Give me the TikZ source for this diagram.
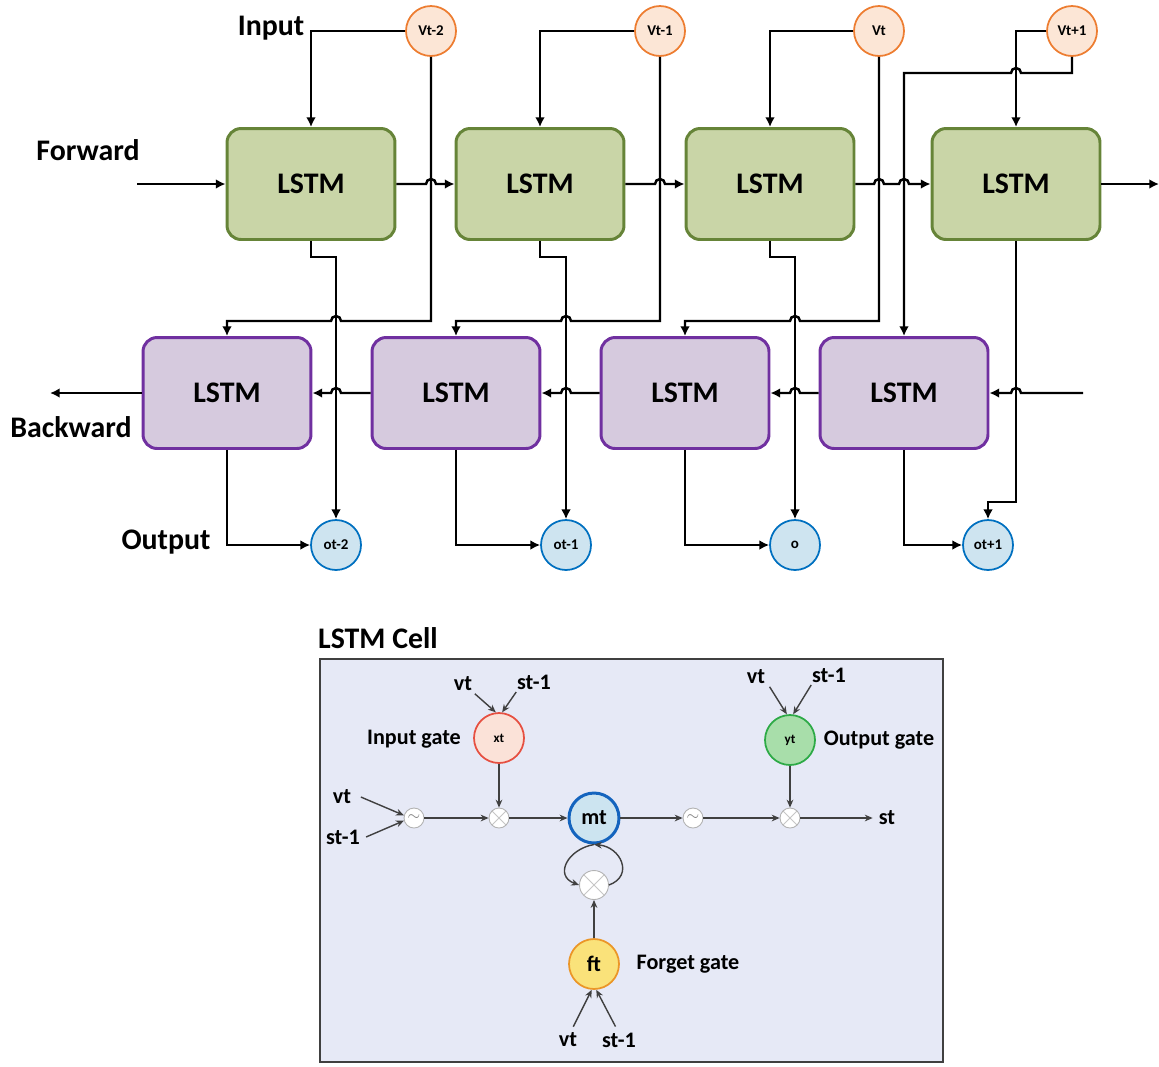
\documentclass[tikz,border=0pt]{standalone}
\usepackage{fontspec}
\setmainfont{Carlito}
\usepackage{tikz}
\usetikzlibrary{arrows.meta, positioning}

\definecolor{fwfill}{RGB}{201,213,167}
\definecolor{fwline}{RGB}{102,132,56}
\definecolor{bwfill}{RGB}{214,202,222}
\definecolor{bwline}{RGB}{112,48,160}
\definecolor{vfill}{RGB}{252,230,214}
\definecolor{vline}{RGB}{237,125,49}
\definecolor{ofill}{RGB}{206,228,240}
\definecolor{oline}{RGB}{0,112,192}
\definecolor{cellbg}{RGB}{230,233,246}
\definecolor{cellline}{RGB}{64,64,64}
\definecolor{xfill}{RGB}{251,226,216}
\definecolor{xline}{RGB}{230,80,65}
\definecolor{yfill}{RGB}{168,222,170}
\definecolor{yline}{RGB}{45,170,70}
\definecolor{mfill}{RGB}{204,228,240}
\definecolor{mline}{RGB}{20,100,190}
\definecolor{ffill}{RGB}{250,226,122}
\definecolor{fline}{RGB}{235,150,40}

\begin{document}
\begin{tikzpicture}[x=0.02cm, y=-0.02cm,
  lstmf/.style={draw=fwline, fill=fwfill, line width=1.7pt, rounded corners=8pt, minimum width=3.36cm, minimum height=2.22cm, font=\fontsize{17}{20}\selectfont\bfseries},
  lstmb/.style={lstmf, draw=bwline, fill=bwfill},
  vin/.style={circle, draw=vline, fill=vfill, line width=1pt, minimum size=1cm, inner sep=0pt, font=\fontsize{8.5}{10}\selectfont\bfseries},
  vout/.style={vin, draw=oline, fill=ofill},
  lbl/.style={font=\fontsize{17}{20}\selectfont\bfseries},
  arr/.style={line width=1.4pt, -{Latex[length=5.5pt,width=5.5pt]}},
  gate/.style={circle, line width=1pt, minimum size=1cm, inner sep=0pt, font=\fontsize{12.6}{15}\selectfont\bfseries},
  tilde/.style={circle, draw=gray!60, fill=white, line width=0.5pt, minimum size=0.4cm, inner sep=0pt, text=gray, font=\small},
  mult/.style={circle, draw=gray!60, fill=white, line width=0.5pt, minimum size=0.4cm, inner sep=0pt,
    path picture={\draw[gray!45, line width=0.5pt] (path picture bounding box.north west) -- (path picture bounding box.south east)
      (path picture bounding box.south west) -- (path picture bounding box.north east);}},
  celltxt/.style={font=\fontsize{12.6}{15}\selectfont\bfseries},
  cellarr/.style={draw=cellline, line width=0.8pt, -{Stealth[length=4.5pt,width=3.8pt]}}]
  \useasboundingbox (0,0) rectangle (1159,1066);

  % bidirectional LSTM
  \node (fw1) [lstmf] at (311,184) {LSTM};
  \node (fw2) [lstmf] at (540,184) {LSTM};
  \node (fw3) [lstmf] at (770,184) {LSTM};
  \node (fw4) [lstmf] at (1016,184) {LSTM};
  \node (bw1) [lstmb] at (227,393) {LSTM};
  \node (bw2) [lstmb] at (456,393) {LSTM};
  \node (bw3) [lstmb] at (685,393) {LSTM};
  \node (bw4) [lstmb] at (904,393) {LSTM};

  \node (in1) [vin] at (431,31) {Vt-2};
  \node (in2) [vin] at (660,31) {Vt-1};
  \node (in3) [vin] at (879,31) {Vt};
  \node (in4) [vin] at (1072,31) {Vt+1};
  \node (out1) [vout] at (336,545) {ot-2};
  \node (out2) [vout] at (566,545) {ot-1};
  \node (out3) [vout] at (795,545) {o};
  \node (out4) [vout] at (988,545) {ot+1};

  \node (inlbl) [lbl] at (271,28) {Input};
  \node (fwlbl) [lbl] at (88,150) {Forward};
  \node (bwlbl) [lbl] at (71,427) {Backward};
  \node (outlbl) [lbl] at (166,542) {Output};

  \coordinate (fstart) at (137,184);
  \coordinate (fend) at (1159,184);
  \coordinate (bstart) at (1083,393);
  \coordinate (bend) at (50,393);

  % forward chain
  \draw [arr] (fstart) -- (fw1.west);
  \draw [arr] (fw1.east) -- (426,184) arc[start angle=180, end angle=0, radius=0.1cm] -- (fw2.west);
  \draw [arr] (fw2.east) -- (655,184) arc[start angle=180, end angle=0, radius=0.1cm] -- (fw3.west);
  \draw [arr] (fw3.east) -- (874,184) arc[start angle=180, end angle=0, radius=0.1cm] -- (899,184)
    arc[start angle=180, end angle=0, radius=0.1cm] -- (fw4.west);
  \draw [arr] (fw4.east) -- (fend);

  % backward chain
  \draw [arr] (bstart) -- (1021,393) arc[start angle=0, end angle=180, radius=0.1cm] -- (bw4.east);
  \draw [arr] (bw4.west) -- (800,393) arc[start angle=0, end angle=180, radius=0.1cm] -- (bw3.east);
  \draw [arr] (bw3.west) -- (571,393) arc[start angle=0, end angle=180, radius=0.1cm] -- (bw2.east);
  \draw [arr] (bw2.west) -- (341,393) arc[start angle=0, end angle=180, radius=0.1cm] -- (bw1.east);
  \draw [arr] (bw1.west) -- (bend);

  % inputs
  \draw [arr] (in1.west) -| (fw1.north);
  \draw [arr] (in2.west) -| (fw2.north);
  \draw [arr] (in3.west) -| (fw3.north);
  \draw [arr] (in4.west) -| (fw4.north);
  \draw [arr] (in1.south) |- (341,321) arc[start angle=0, end angle=180, radius=0.1cm] -| (bw1.north);
  \draw [arr] (in2.south) |- (571,321) arc[start angle=0, end angle=180, radius=0.1cm] -| (bw2.north);
  \draw [arr] (in3.south) |- (800,321) arc[start angle=0, end angle=180, radius=0.1cm] -| (bw3.north);
  \draw [arr] (in4.south) |- (1021,73) arc[start angle=0, end angle=180, radius=0.1cm] -| (bw4.north);

  % outputs
  \draw [arr] (fw1.south) |- (336,257) -- (out1.north);
  \draw [arr] (fw2.south) |- (566,257) -- (out2.north);
  \draw [arr] (fw3.south) |- (795,257) -- (out3.north);
  \draw [arr] (fw4.south) -- (1016,502) -| (out4.north);
  \draw [arr] (bw1.south) |- (out1.west);
  \draw [arr] (bw2.south) |- (out2.west);
  \draw [arr] (bw3.south) |- (out3.west);
  \draw [arr] (bw4.south) |- (out4.west);

  % LSTM cell
  \node (cell) [draw=cellline, fill=cellbg, line width=0.9pt, minimum width=12.46cm, minimum height=8.06cm] at (631.5,860.5) {};
  \node (celllbl) [lbl] at (378,638) {LSTM Cell};

  \node (t1) [tilde] at (414,818) {$\sim$};
  \node (m1) [mult] at (499,818) {};
  \node (mt) [gate, draw=mline, fill=mfill, line width=1.7pt] at (594,818) {mt};
  \node (t2) [tilde] at (693,818) {$\sim$};
  \node (m2) [mult] at (790,818) {};
  \node (st) [celltxt] at (887,818) {st};
  \node (xt) [gate, draw=xline, fill=xfill, font=\fontsize{7.5}{9}\selectfont\bfseries] at (499,738) {xt};
  \node (yt) [gate, draw=yline, fill=yfill, font=\fontsize{7.5}{9}\selectfont\bfseries] at (790,740) {yt};
  \node (mb) [mult, minimum size=0.58cm] at (594,885) {};
  \node (ft) [gate, draw=fline, fill=ffill] at (594,964) {ft};

  \node (xlbl) [celltxt] at (414,739) {Input gate};
  \node (ylbl) [celltxt] at (879,740) {Output gate};
  \node (flbl) [celltxt] at (688,964) {Forget gate};

  \node (vx) [celltxt] at (463,684) {vt};
  \node (sx) [celltxt] at (534,682) {st-1};
  \node (vy) [celltxt] at (756,677) {vt};
  \node (sy) [celltxt] at (829,675) {st-1};
  \node (vf) [celltxt] at (568,1040) {vt};
  \node (sf) [celltxt] at (619,1040) {st-1};
  \node (vl) [celltxt] at (342,797) {vt};
  \node (sl) [celltxt] at (343,837) {st-1};

  \draw [cellarr] ([xshift=-2pt, yshift=2pt]vx.south east) -- (xt.97);
  \draw [cellarr] ([xshift=3pt, yshift=2pt]sx.south west) -- (xt.83);
  \draw [cellarr] ([xshift=-1pt, yshift=2pt]vy.south east) -- (yt.97);
  \draw [cellarr] ([xshift=3pt, yshift=2pt]sy.south west) -- (yt.83);
  \draw [cellarr] ([xshift=3pt]vf.north) -- (ft.265);
  \draw [cellarr] ([xshift=-2pt]sf.north) -- (ft.275);
  \draw [cellarr] ([xshift=2pt]vl.east) -- (t1.165);
  \draw [cellarr] (sl.east) -- (t1.195);

  \draw [cellarr] (t1) -- (m1);
  \draw [cellarr] (xt) -- (m1);
  \draw [cellarr] (m1) -- (mt);
  \draw [cellarr] (mt) -- (t2);
  \draw [cellarr] (t2) -- (m2);
  \draw [cellarr] (yt) -- (m2);
  \draw [cellarr] (m2) -- (st);
  \draw [cellarr] (ft) -- (mb);
  \draw [cellarr] (mt.south) to[out=190, in=160, looseness=1.6] (mb.west);
  \draw [cellarr] (mb.east) to[out=20, in=-5, looseness=1.6] (mt.south);
\end{tikzpicture}
\end{document}
